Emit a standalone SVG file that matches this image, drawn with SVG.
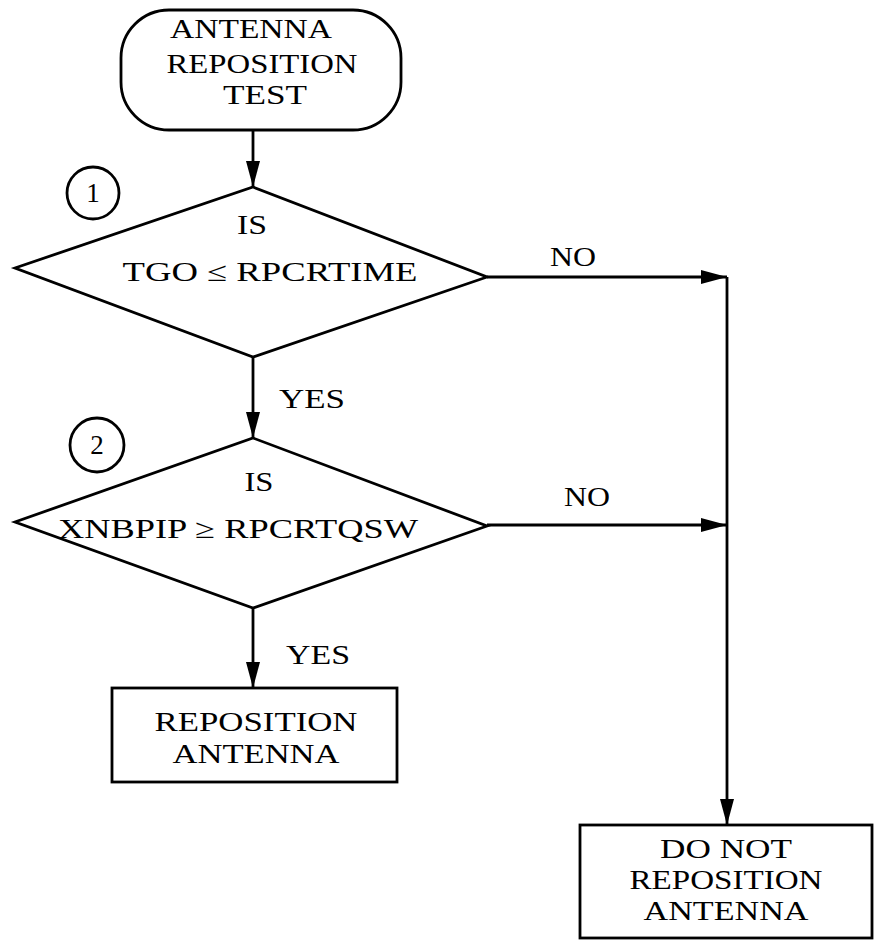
<svg xmlns="http://www.w3.org/2000/svg" width="874" height="942" viewBox="0 0 874 942">
<style>
.s{fill:#fff;stroke:#000;stroke-width:2.8}
.t{font-family:"Liberation Serif","Times New Roman",serif;font-size:27px;fill:#000;text-anchor:middle}
.c{fill:none;stroke:#000;stroke-width:2.8}
</style>
<defs>
<marker id="ah" markerUnits="userSpaceOnUse" markerWidth="28" markerHeight="16" refX="26" refY="8" orient="auto">
<path d="M0,1 L26,8 L0,15 Z" fill="#000"/>
</marker>
</defs>
<rect width="874" height="942" fill="#fff"/>
<g id="connectors">
<line class="c" x1="253" y1="130" x2="253" y2="187" marker-end="url(#ah)"/>
<line class="c" x1="253" y1="357" x2="253" y2="438" marker-end="url(#ah)"/>
<line class="c" x1="253" y1="608" x2="253" y2="688" marker-end="url(#ah)"/>
<line class="c" x1="487" y1="277" x2="727" y2="277" marker-end="url(#ah)"/>
<line class="c" x1="487" y1="525" x2="727" y2="525" marker-end="url(#ah)"/>
<line class="c" x1="727" y1="277" x2="727" y2="825" marker-end="url(#ah)"/>
<text class="t" x="312" y="408" textLength="66" lengthAdjust="spacingAndGlyphs">YES</text>
<text class="t" x="318" y="664" textLength="64" lengthAdjust="spacingAndGlyphs">YES</text>
<text class="t" x="573" y="266" textLength="46" lengthAdjust="spacingAndGlyphs">NO</text>
<text class="t" x="587" y="506" textLength="46" lengthAdjust="spacingAndGlyphs">NO</text>
</g>
<g id="start">
<rect class="s" x="121" y="10" width="280" height="120" rx="48" ry="48"/>
<text class="t" x="251" y="38" textLength="162" lengthAdjust="spacingAndGlyphs">ANTENNA</text>
<text class="t" x="262" y="73" textLength="191" lengthAdjust="spacingAndGlyphs">REPOSITION</text>
<text class="t" x="265" y="104" textLength="84" lengthAdjust="spacingAndGlyphs">TEST</text>
</g>
<g id="decision1">
<polygon class="s" points="253,187 487,277 253,357 15,268"/>
<text class="t" x="252" y="234" textLength="30" lengthAdjust="spacingAndGlyphs">IS</text>
<text class="t" x="270" y="281" textLength="295" lengthAdjust="spacingAndGlyphs">TGO ≤ RPCRTIME</text>
<circle class="s" cx="93" cy="193" r="26"/>
<text class="t" x="93" y="202">1</text>
</g>
<g id="decision2">
<polygon class="s" points="253,438 487,526 253,608 15,522"/>
<text class="t" x="259" y="491" textLength="29" lengthAdjust="spacingAndGlyphs">IS</text>
<text class="t" x="238" y="538" textLength="360" lengthAdjust="spacingAndGlyphs">XNBPIP ≥ RPCRTQSW</text>
<circle class="s" cx="97" cy="445" r="27"/>
<text class="t" x="97" y="454">2</text>
</g>
<g id="reposition">
<rect class="s" x="112" y="688" width="285" height="94"/>
<text class="t" x="256" y="731" textLength="203" lengthAdjust="spacingAndGlyphs">REPOSITION</text>
<text class="t" x="256" y="763" textLength="167" lengthAdjust="spacingAndGlyphs">ANTENNA</text>
</g>
<g id="donot">
<rect class="s" x="580" y="825" width="292" height="113"/>
<text class="t" x="726" y="858" textLength="132" lengthAdjust="spacingAndGlyphs">DO NOT</text>
<text class="t" x="726" y="889" textLength="193" lengthAdjust="spacingAndGlyphs">REPOSITION</text>
<text class="t" x="726" y="920" textLength="165" lengthAdjust="spacingAndGlyphs">ANTENNA</text>
</g>
</svg>
